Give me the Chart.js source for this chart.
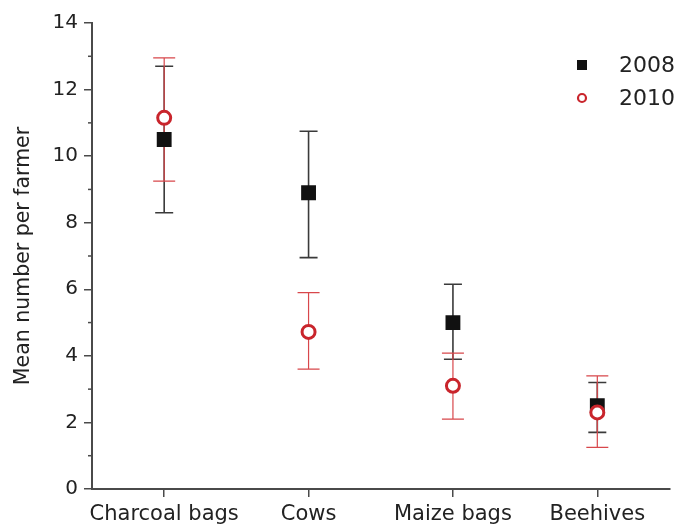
<!DOCTYPE html>
<html><head><meta charset="utf-8">
<script src="https://cdn.jsdelivr.net/npm/chart.js@4.4.1/dist/chart.umd.min.js"></script>
<style>html,body{margin:0;padding:0;background:#fff}#wrap{width:680px;height:529px}</style>
</head><body><div id="wrap"><canvas id="c" width="680" height="529"></canvas></div>
<script>
const categories = ['Charcoal bags', 'Cows', 'Maize bags', 'Beehives'];
const seriesNames = ['2008', '2010'];
const mean2008 = [10.5, 8.9, 5.0, 2.5];
const low2008  = [8.3, 6.95, 3.9, 1.7];
const high2008 = [12.7, 10.75, 6.15, 3.2];
const mean2010 = [11.15, 4.72, 3.1, 2.3];
const low2010  = [9.25, 3.6, 2.1, 1.25];
const high2010 = [12.95, 5.9, 4.08, 3.4];
const yTicks = [0, 2, 4, 6, 8, 10, 12, 14];
const yMinorTicks = [1, 3, 5, 7, 9, 11, 13];

const FONT = "'DejaVu Sans', Arial, sans-serif";
const RED = '#c9252c';
const RED_BAR = '#d8474b';
const BLACK = '#111111';
const AXIS = '#4a4a4a';
const TEXT = '#222222';

const errorBars = [
  {low: low2008, high: high2008, color: '#3a3a3a', width: 1.6, cap: 18},
  {low: low2010, high: high2010, color: RED_BAR, width: 1.2, cap: 22}
];

const errorBarPlugin = {
  id: 'errorBars',
  beforeDatasetsDraw(chart) {
    const ctx = chart.ctx;
    const y = chart.scales.y;
    errorBars.forEach((eb, di) => {
      const meta = chart.getDatasetMeta(di);
      ctx.save();
      ctx.strokeStyle = eb.color;
      ctx.lineWidth = eb.width;
      meta.data.forEach((pt, i) => {
        const x = pt.x;
        const yl = y.getPixelForValue(eb.low[i]);
        const yh = y.getPixelForValue(eb.high[i]);
        ctx.beginPath();
        ctx.moveTo(x, yl); ctx.lineTo(x, yh);
        ctx.moveTo(x - eb.cap / 2, yl); ctx.lineTo(x + eb.cap / 2, yl);
        ctx.moveTo(x - eb.cap / 2, yh); ctx.lineTo(x + eb.cap / 2, yh);
        ctx.stroke();
      });
      ctx.restore();
    });
  }
};

const minorTickPlugin = {
  id: 'minorTicks',
  afterDraw(chart) {
    const ctx = chart.ctx;
    const y = chart.scales.y;
    const x0 = chart.chartArea.left;
    ctx.save();
    ctx.strokeStyle = AXIS;
    ctx.lineWidth = 1.5;
    yMinorTicks.forEach(v => {
      const py = y.getPixelForValue(v);
      ctx.beginPath();
      ctx.moveTo(x0 - 4, py); ctx.lineTo(x0, py);
      ctx.stroke();
    });
    ctx.restore();
  }
};

const legendPlugin = {
  id: 'customLegend',
  afterDraw(chart) {
    const ctx = chart.ctx;
    const mx = 582, tx = 619;
    const rows = [65, 98];
    ctx.save();
    ctx.fillStyle = BLACK;
    ctx.fillRect(mx - 5, rows[0] - 5, 10, 10);
    ctx.beginPath();
    ctx.arc(mx, rows[1], 4, 0, Math.PI * 2);
    ctx.fillStyle = '#fff';
    ctx.fill();
    ctx.lineWidth = 2.2;
    ctx.strokeStyle = RED;
    ctx.stroke();
    ctx.fillStyle = TEXT;
    ctx.font = '22px ' + FONT;
    ctx.textBaseline = 'middle';
    ctx.textAlign = 'left';
    ctx.fillText(seriesNames[0], tx, rows[0] + 1);
    ctx.fillText(seriesNames[1], tx, rows[1] + 1);
    ctx.restore();
  }
};

new Chart(document.getElementById('c'), {
  type: 'line',
  data: {
    labels: categories,
    datasets: [
      {
        label: seriesNames[0], data: mean2008, showLine: false, order: 1,
        pointStyle: 'rect', pointRadius: 10.5, pointHoverRadius: 10.5,
        backgroundColor: BLACK, borderColor: BLACK, pointBorderWidth: 0
      },
      {
        label: seriesNames[1], data: mean2010, showLine: false, order: 0,
        pointStyle: 'circle', pointRadius: 6.5, pointHoverRadius: 6.5,
        backgroundColor: '#ffffff', borderColor: RED, pointBorderWidth: 3
      }
    ]
  },
  options: {
    responsive: false,
    animation: false,
    devicePixelRatio: 1,
    layout: {padding: {left: 0, right: 8, top: 23, bottom: 0}},
    plugins: {legend: {display: false}, tooltip: {enabled: false}},
    scales: {
      x: {
        type: 'category',
        offset: true,
        afterFit(s) { s.height = 40; },
        grid: {drawOnChartArea: false, drawTicks: true, tickLength: 8, color: AXIS, lineWidth: 1.5, offset: false},
        border: {display: true, color: AXIS, width: 2},
        ticks: {color: TEXT, font: {family: FONT, size: 21}, padding: 5, maxRotation: 0, autoSkip: false}
      },
      y: {
        min: 0, max: 14,
        afterFit(s) { s.width = 92; },
        afterBuildTicks(s) { s.ticks = yTicks.map(v => ({value: v})); },
        grid: {drawOnChartArea: false, drawTicks: true, tickLength: 8, color: AXIS, lineWidth: 1.5},
        border: {display: true, color: AXIS, width: 2},
        ticks: {color: TEXT, font: {family: FONT, size: 20}, padding: 6},
        title: {display: true, text: 'Mean number per farmer', color: TEXT,
                font: {family: FONT, size: 20.5}, padding: {top: 11, bottom: 0}}
      }
    }
  },
  plugins: [errorBarPlugin, minorTickPlugin, legendPlugin]
});
</script>
</body></html>
